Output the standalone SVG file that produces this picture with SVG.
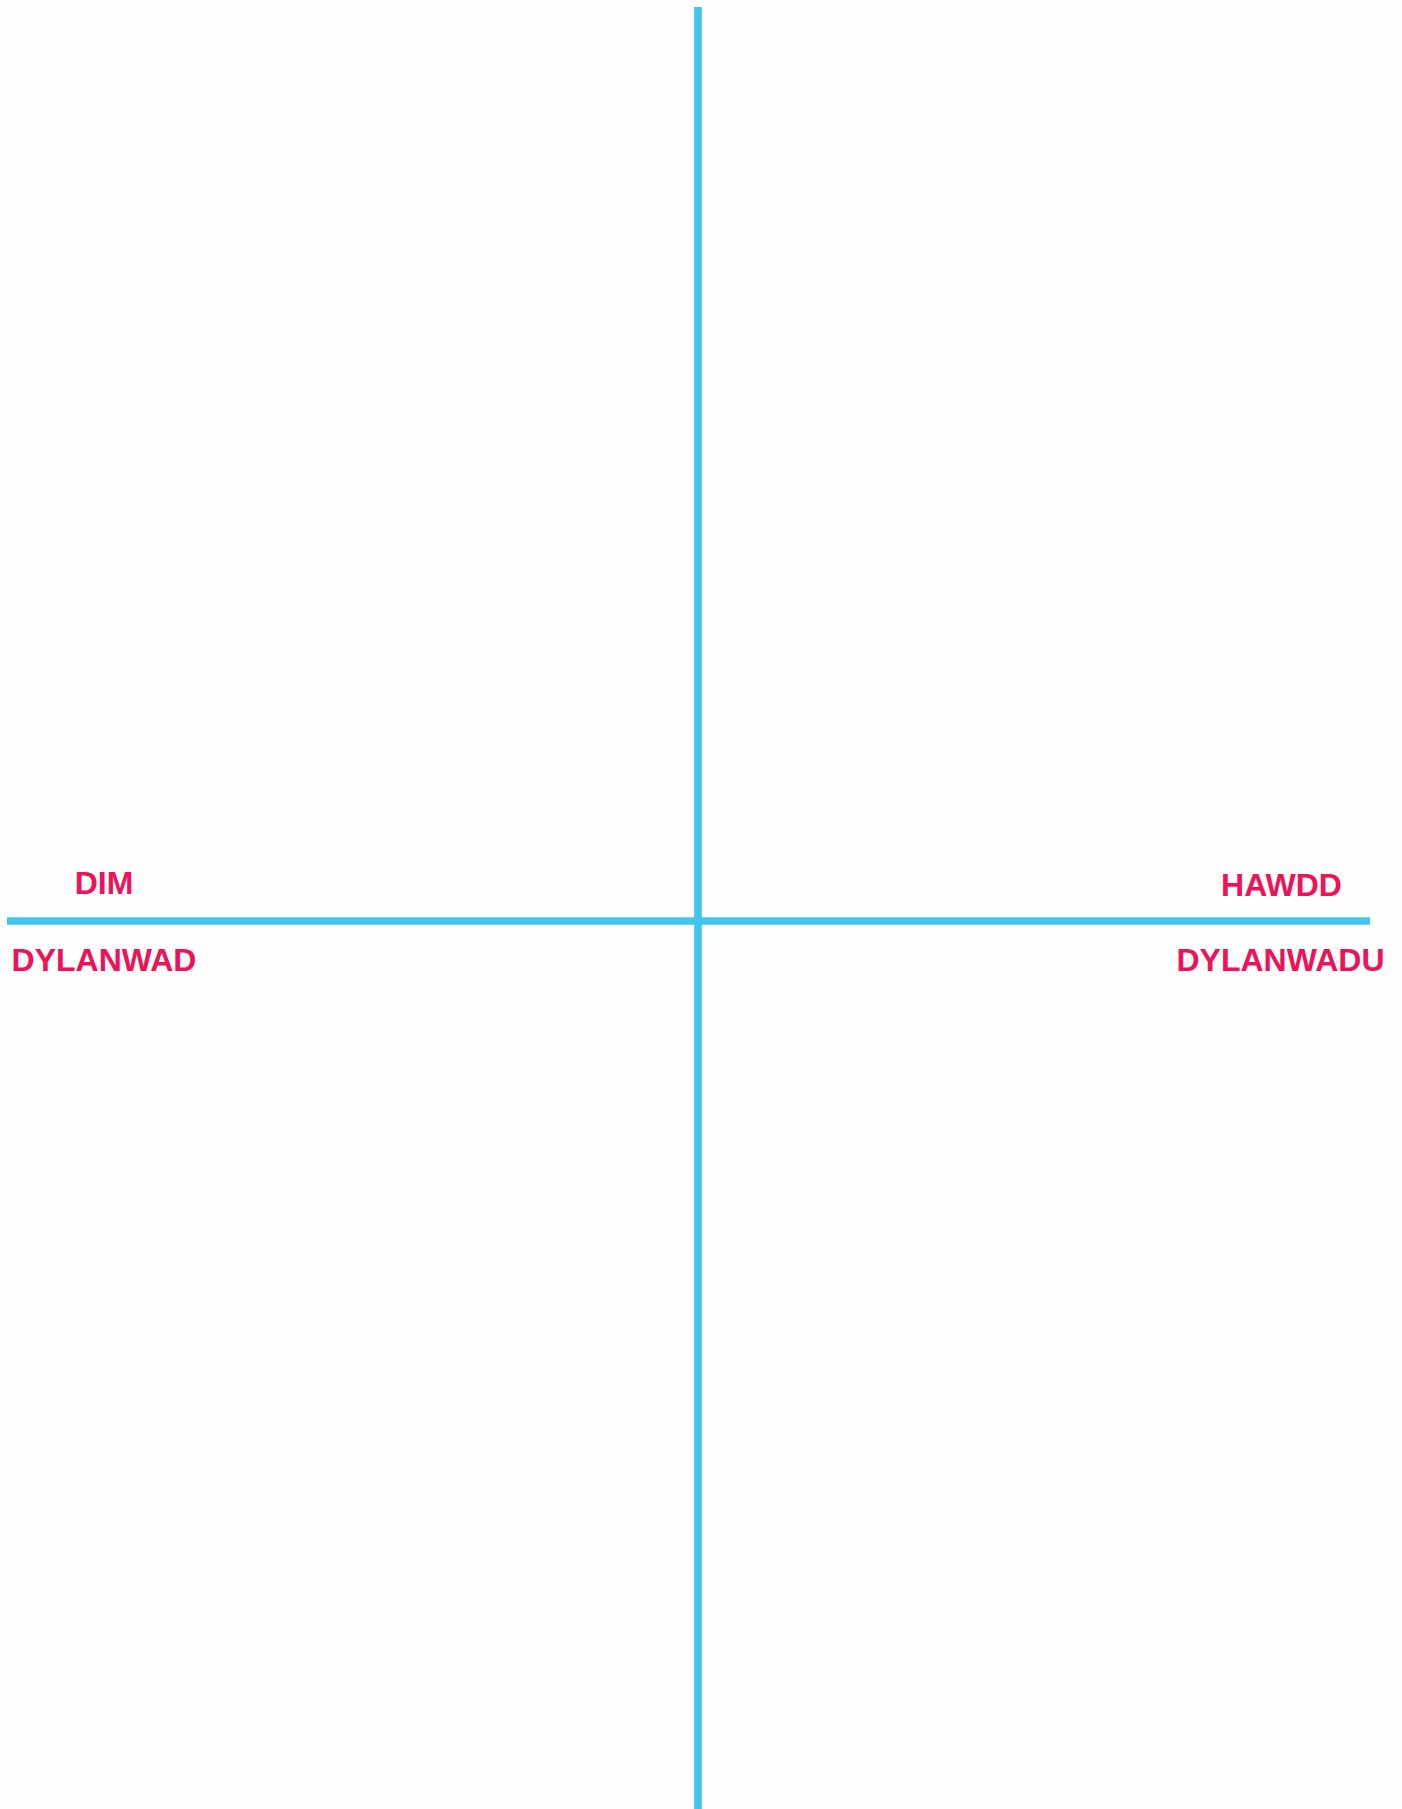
<svg xmlns="http://www.w3.org/2000/svg" width="1402" height="1809" viewBox="0 0 1402 1809">
<style>
.ax{stroke:#43C6EE;stroke-width:7.7;fill:none}
.lb{font-family:"Liberation Sans",Arial,sans-serif;font-weight:bold;font-size:32px;fill:#EE1258;text-anchor:middle}
</style>
<rect width="1402" height="1809" fill="#FEFEFE"/>
<g id="connectors">
<line class="ax" x1="7" y1="921" x2="1370" y2="921"/>
<line class="ax" x1="698" y1="7" x2="698" y2="1809"/>
</g>
<g id="dim"><text class="lb" x="104" y="894">DIM</text></g>
<g id="dylanwad"><text class="lb" x="104" y="971">DYLANWAD</text></g>
<g id="hawdd"><text class="lb" x="1281.5" y="895.5">HAWDD</text></g>
<g id="dylanwadu"><text class="lb" x="1280.5" y="971">DYLANWADU</text></g>
</svg>
